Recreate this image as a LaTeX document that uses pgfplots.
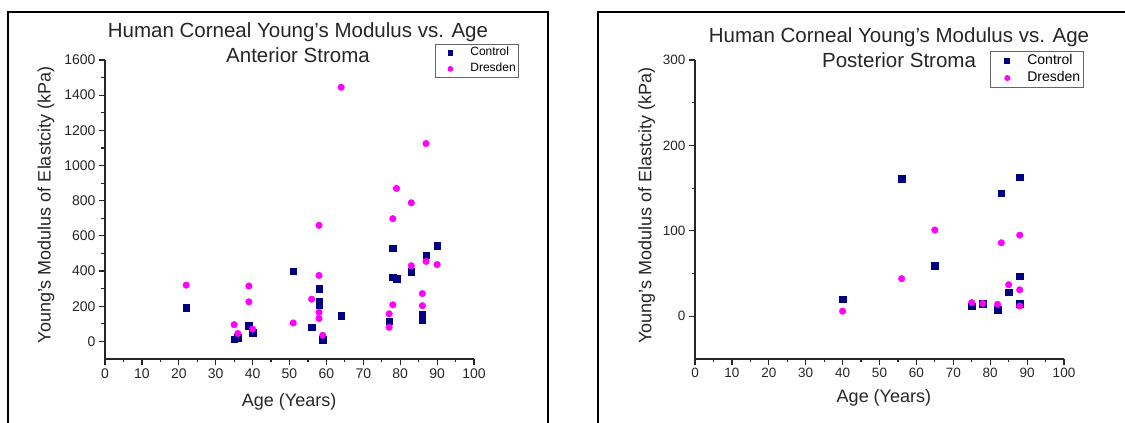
\documentclass[border=0pt]{standalone}
\usepackage{fontspec}
\setmainfont{Liberation Sans}
\usepackage{pgfplots}
\pgfplotsset{compat=1.18}

\definecolor{ctrl}{RGB}{0,0,128}
\definecolor{dres}{RGB}{255,0,255}

\pgfplotsset{
  panel/.style={
    scale only axis, height=299pt, width=369pt,
    xmin=0, xmax=100,
    xtick={0,10,...,100}, minor x tick num=1,
    axis lines*=left,
    axis line style={line width=1.5pt, black!85},
    every tick/.style={line width=1.2pt, black!85},
    tick align=outside,
    major tick length=6pt, minor tick length=3.5pt,
    /pgf/number format/assume math mode=true,
    /pgf/number format/1000 sep={},
    ticklabel style={font=\fontsize{14}{16}\selectfont, black!85},
    xlabel={Age (Years)},
    ylabel={Young's Modulus of Elastcity (kPa)},
    xlabel style={font=\fontsize{18}{20}\selectfont, anchor=center, black!85},
    ylabel style={font=\fontsize{18}{20}\selectfont, anchor=center, black!85},
    title style={font=\fontsize{20.5}{25}\selectfont, align=center, anchor=center, black!85},
    legend cell align=left,
    legend style={draw=black!60, line width=1pt, anchor=north west,
      nodes={inner sep=0pt}, inner xsep=3pt, inner ysep=2.5pt},
    clip=false,
  },
  ctrlmark/.style={only marks, mark=square*, mark size=3.3pt, color=ctrl},
  dresmark/.style={only marks, mark=*, mark size=3.3pt, color=dres},
}

\begin{document}
\begin{tikzpicture}
\useasboundingbox (0,0) rectangle (1125pt,423pt);
% panel frames
\draw[line width=2pt, black] (8pt,0pt) -- (8pt,411pt) -- (548pt,411pt) -- (548pt,0pt);
\draw[line width=2pt, black] (598pt,0pt) -- (598pt,411pt) -- (1125pt,411pt);

\begin{axis}[panel,
    at={(105pt,64pt)}, anchor=south west,
    ymin=-100, ymax=1600, ytick={0,200,...,1600}, minor y tick num=1,
    title={Human Corneal Young's Modulus vs. Age\\Anterior Stroma},
    title style={at={(axis description cs:0.523,1.038)}},
    xlabel style={at={(axis description cs:0.499,-0.144)}},
    ylabel style={at={(axis description cs:-0.160,0.515)}},
    legend style={at={(axis description cs:0.894,1.054)},
      font=\fontsize{12}{13}\selectfont,
      nodes={text height=9pt, text depth=3pt}, row sep=4pt, column sep=8pt},
    legend image code/.code={
      \path[draw=none, fill=none] (0pt,-3pt) rectangle (24pt,3pt);
      \draw[#1, mark size=2.3pt] plot coordinates {(12pt,0pt)};},
  ]
  \addplot[ctrlmark] coordinates {
    (22,190) (35,12) (36,20) (39,90) (40,50) (51,400) (56,80)
    (58,300) (58,225) (58,205) (59,10) (64,145) (77,115) (78,530)
    (78,365) (79,355) (83,395) (86,155) (86,140) (86,120) (87,490) (90,545)
  };
  \addplot[dresmark] coordinates {
    (22,320) (35,95) (36,45) (39,315) (39,225) (40,70) (51,105) (56,240)
    (58,660) (58,375) (58,165) (58,130) (59,35) (64,1445) (77,157) (77,80)
    (78,698) (78,208) (79,870) (83,788) (83,430) (86,272) (86,203)
    (87,1125) (87,455) (90,437)
  };
  \legend{Control, Dresden}
\end{axis}

\begin{axis}[panel,
    at={(695pt,64pt)}, anchor=south west,
    ymin=-50, ymax=300, ytick={0,100,200,300}, minor y tick num=1,
    ticklabel style={font=\fontsize{13.5}{15}\selectfont},
    title={Human Corneal Young's Modulus vs. Age\\Posterior Stroma},
    title style={at={(axis description cs:0.553,1.022)}},
    xlabel style={at={(axis description cs:0.512,-0.130)}},
    ylabel style={at={(axis description cs:-0.131,0.512)}},
    legend style={at={(axis description cs:0.799,1.030)},
      font=\fontsize{14}{15}\selectfont,
      nodes={text height=10.5pt, text depth=3.5pt}, row sep=3pt, column sep=8pt},
    legend image code/.code={
      \path[draw=none, fill=none] (0pt,-3pt) rectangle (26pt,3pt);
      \draw[#1, mark size=2.5pt] plot coordinates {(14pt,0pt)};},
  ]
  \addplot[ctrlmark] coordinates {
    (40,20) (56,161) (65,59) (75,12) (78,15) (82,8) (83,144) (85,28)
    (88,163) (88,47) (88,15)
  };
  \addplot[dresmark] coordinates {
    (40,6) (56,44) (65,101) (75,16) (78,15) (82,14) (83,86) (85,37)
    (88,95) (88,31) (88,12)
  };
  \legend{Control, Dresden}
\end{axis}
\end{tikzpicture}
\end{document}
